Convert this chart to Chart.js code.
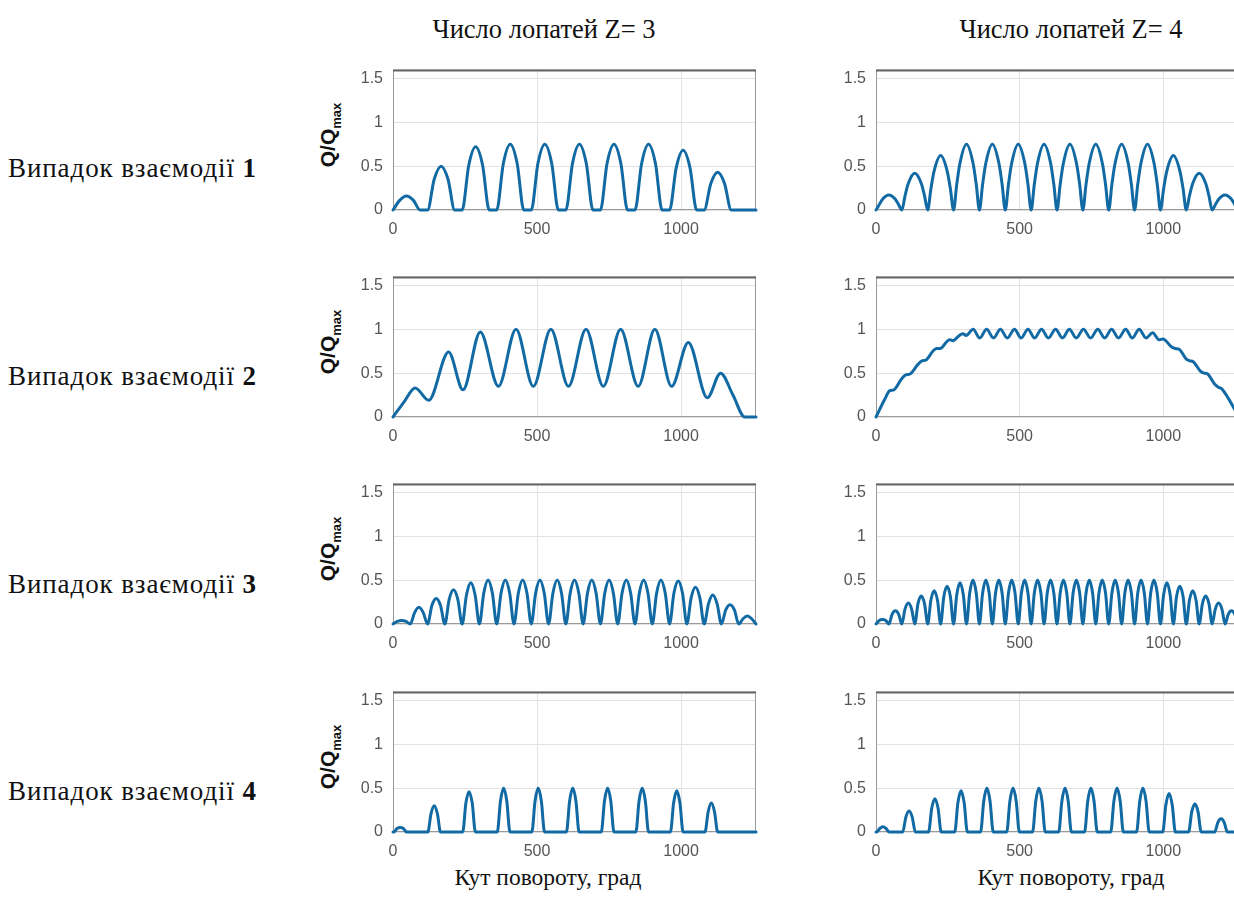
<!DOCTYPE html>
<html>
<head>
<meta charset="utf-8">
<script src="https://cdn.jsdelivr.net/npm/chart.js@4.4.1/dist/chart.umd.min.js"></script>
<style>
html, body { margin: 0; padding: 0; background: #fff; width: 1234px; height: 898px; overflow: hidden; }
#wrap { position: relative; width: 1234px; height: 898px; overflow: hidden; }
canvas { position: absolute; }
.txt { position: absolute; font-family: 'Liberation Serif', 'Times New Roman', serif; color: #111; white-space: nowrap; line-height: 1; }
.col { font-size: 26.5px; transform: translate(-50%, -50%); }
.bot { font-size: 23.5px; transform: translate(-50%, -50%); }
.row { font-size: 27px; letter-spacing: 0.9px; left: 8px; transform: translateY(-50%); }
.ylab { position: absolute; font-family: 'Liberation Sans', Arial, sans-serif; font-weight: bold; font-size: 21px; color: #111;
        transform: translate(-50%, -50%) rotate(-90deg); white-space: nowrap; line-height: 1; }
.ylab sub { font-size: 13px; }
</style>
</head>
<body>
<div id="wrap">
  <div class="txt col" style="left:544px; top:29px;">Число лопатей Z= 3</div>
  <div class="txt col" style="left:1071px; top:29px;">Число лопатей Z= 4</div>

  <div class="txt row" style="top:168px;">Випадок взаємодії <b>1</b></div>
  <div class="txt row" style="top:376px;">Випадок взаємодії <b>2</b></div>
  <div class="txt row" style="top:584px;">Випадок взаємодії <b>3</b></div>
  <div class="txt row" style="top:791px;">Випадок взаємодії <b>4</b></div>

  <div class="ylab" style="left:330px; top:135px;">Q/Q<sub>max</sub></div>
  <div class="ylab" style="left:330px; top:342px;">Q/Q<sub>max</sub></div>
  <div class="ylab" style="left:330px; top:549px;">Q/Q<sub>max</sub></div>
  <div class="ylab" style="left:330px; top:757px;">Q/Q<sub>max</sub></div>

  <div class="txt bot" style="left:548px; top:878px;">Кут повороту, град</div>
  <div class="txt bot" style="left:1071px; top:878px;">Кут повороту, град</div>
</div>

<script>
// axis ticks
var xTicks = [0, 500, 1000];
var yTicks = [0, 0.5, 1, 1.5];

// case 1, Z=3
var aX = [0,23,47,71,94, 120,143,167,191,214, 240,263,287,311,334, 360,383,407,431,454, 480,503,527,551,574,
          600,623,647,671,694, 720,743,767,791,814, 840,863,887,911,934, 960,983,1007,1031,1054, 1080,1103,1127,1151,1174, 1260];
var aY = [0,0.11,0.16,0.11,0, 0,0.35,0.5,0.35,0, 0,0.51,0.72,0.51,0, 0,0.53,0.75,0.53,0, 0,0.53,0.75,0.53,0,
          0,0.53,0.75,0.53,0, 0,0.53,0.75,0.53,0, 0,0.53,0.75,0.53,0, 0,0.48,0.68,0.48,0, 0,0.3,0.43,0.3,0, 0];

// case 1, Z=4
var bX = [0,11,22,45,68,79, 90,101,112,135,158,169, 180,191,202,225,248,259, 270,281,292,315,338,349,
          360,371,382,405,428,439, 450,461,472,495,518,529, 540,551,562,585,608,619, 630,641,652,675,698,709,
          720,731,742,765,788,799, 810,821,832,855,878,889, 900,911,922,945,968,979, 990,1001,1012,1035,1058,1069,
          1080,1091,1102,1125,1148,1159, 1170,1181,1192,1215,1238,1249, 1260];
var bY = [0,0.06,0.12,0.17,0.12,0.06, 0,0.16,0.3,0.42,0.3,0.16, 0,0.24,0.44,0.62,0.44,0.24, 0,0.29,0.53,0.75,0.53,0.29,
          0,0.29,0.53,0.75,0.53,0.29, 0,0.29,0.53,0.75,0.53,0.29, 0,0.29,0.53,0.75,0.53,0.29, 0,0.29,0.53,0.75,0.53,0.29,
          0,0.29,0.53,0.75,0.53,0.29, 0,0.29,0.53,0.75,0.53,0.29, 0,0.29,0.53,0.75,0.53,0.29, 0,0.24,0.44,0.62,0.44,0.24,
          0,0.16,0.3,0.42,0.3,0.16, 0,0.06,0.12,0.17,0.12,0.06, 0];

// case 2, Z=3
var cX = [0,38,77,124,193,243,303,366,427,487,548,609,670,730,790,851,909,967,1025,1091,1137,1180,1221,1260];
var cY = [0,0.17,0.33,0.19,0.74,0.31,0.97,0.35,1.0,0.35,1.0,0.35,1.0,0.35,1.0,0.35,1.0,0.35,0.85,0.22,0.5,0.25,0,0];

// case 2, Z=4
var dX = [0,30,48,62, 90,104,118, 146,160,174, 198,210,224, 244,256,268, 290,302,314, 338,
          361,385,409,433,457,482,505,529,552,576,600,625,649,673,697,722,747,772,796,820,844,869,892,916,940,
          963,985,999, 1028,1042,1056, 1080,1092,1104, 1130,1142,1154, 1180,1192,1204, 1260];
var dY = [0,0.2,0.3,0.31, 0.44,0.48,0.49, 0.6,0.64,0.65, 0.75,0.78,0.78, 0.85,0.88,0.87, 0.93,0.95,0.93, 1.0,
          0.9,1,0.9,1,0.9,1,0.9,1,0.9,1,0.9,1,0.9,1,0.9,1,0.9,1,0.9,1,0.9,1,0.9,1,0.9,
          0.96,0.88,0.89, 0.8,0.78,0.77, 0.66,0.64,0.63, 0.52,0.5,0.49, 0.37,0.34,0.32, 0.02];

// case 3, Z=3
var eX = [0,15,30,45, 60,75,90,105, 120,135,150,165, 180,195,210,225, 240,255,270,285, 300,315,330,345,
          360,375,390,405, 420,435,450,465, 480,495,510,525, 540,555,570,585, 600,615,630,645, 660,675,690,705,
          720,735,750,765, 780,795,810,825, 840,855,870,885, 900,915,930,945, 960,975,990,1005, 1020,1035,1050,1065,
          1080,1095,1110,1125, 1140,1155,1170,1185, 1200,1215,1230,1245, 1260];
var eY = [0,0.03,0.04,0.03, 0,0.13,0.19,0.13, 0,0.21,0.29,0.21, 0,0.28,0.39,0.28, 0,0.33,0.47,0.33, 0,0.35,0.5,0.35,
          0,0.35,0.5,0.35, 0,0.35,0.5,0.35, 0,0.35,0.5,0.35, 0,0.35,0.5,0.35, 0,0.35,0.5,0.35, 0,0.35,0.5,0.35,
          0,0.35,0.5,0.35, 0,0.35,0.5,0.35, 0,0.35,0.5,0.35, 0,0.35,0.5,0.35, 0,0.35,0.49,0.35, 0,0.3,0.42,0.3,
          0,0.23,0.33,0.23, 0,0.16,0.22,0.16, 0,0.06,0.09,0.06, 0];

// case 3, Z=4
var fX = [0,11,22.5,34, 45,56,67.5,79, 90,101,112.5,124, 135,146,157.5,169, 180,191,202.5,214, 225,236,247.5,259,
          270,281,292.5,304, 315,326,337.5,349, 360,371,382.5,394, 405,416,427.5,439, 450,461,472.5,484, 495,506,517.5,529,
          540,551,562.5,574, 585,596,607.5,619, 630,641,652.5,664, 675,686,697.5,709, 720,731,742.5,754, 765,776,787.5,799,
          810,821,832.5,844, 855,866,877.5,889, 900,911,922.5,934, 945,956,967.5,979, 990,1001,1012.5,1024, 1035,1046,1057.5,1069,
          1080,1091,1102.5,1114, 1125,1136,1147.5,1159, 1170,1181,1192.5,1204, 1215,1226,1237.5,1249, 1260];
var fY = [0,0.04,0.05,0.04, 0,0.11,0.15,0.11, 0,0.17,0.24,0.17, 0,0.23,0.32,0.23, 0,0.27,0.38,0.27, 0,0.31,0.43,0.31,
          0,0.33,0.47,0.33, 0,0.35,0.5,0.35, 0,0.35,0.5,0.35, 0,0.35,0.5,0.35, 0,0.35,0.5,0.35, 0,0.35,0.5,0.35,
          0,0.35,0.5,0.35, 0,0.35,0.5,0.35, 0,0.35,0.5,0.35, 0,0.35,0.5,0.35, 0,0.35,0.5,0.35, 0,0.35,0.5,0.35,
          0,0.35,0.5,0.35, 0,0.35,0.5,0.35, 0,0.35,0.5,0.35, 0,0.35,0.5,0.35, 0,0.33,0.47,0.33, 0,0.31,0.43,0.31,
          0,0.27,0.38,0.27, 0,0.23,0.32,0.23, 0,0.17,0.24,0.17, 0,0.11,0.15,0.11, 0,0.04,0.05,0.04, 0];

// case 4, Z=3
var gX = [0, 3,14,25,36,47, 121,132,143,154,165, 242,253,264,275,286, 362,373,384,395,406, 482,493,504,515,526,
          602,613,624,635,646, 723,734,745,756,767, 843,854,865,876,887, 963,974,985,996,1007, 1083,1094,1105,1116,1127, 1260];
var gY = [0, 0,0.04,0.05,0.04,0, 0,0.21,0.3,0.21,0, 0,0.33,0.46,0.33,0, 0,0.35,0.5,0.35,0, 0,0.35,0.5,0.35,0,
          0,0.35,0.5,0.35,0, 0,0.35,0.5,0.35,0, 0,0.35,0.5,0.35,0, 0,0.33,0.47,0.33,0, 0,0.23,0.33,0.23,0, 0];

// case 4, Z=4
var hX = [0, 2,13,24,35,46, 93,104,115,126,137, 183,194,205,216,227, 274,285,296,307,318, 364,375,386,397,408,
          455,466,477,488,499, 545,556,567,578,589, 636,647,658,669,680, 726,737,748,759,770, 817,828,839,850,861,
          907,918,929,940,951, 998,1009,1020,1031,1042, 1088,1099,1110,1121,1132, 1179,1190,1201,1212,1223, 1260];
var hY = [0, 0,0.04,0.06,0.04,0, 0,0.17,0.24,0.17,0, 0,0.27,0.38,0.27,0, 0,0.33,0.47,0.33,0, 0,0.35,0.5,0.35,0,
          0,0.35,0.5,0.35,0, 0,0.35,0.5,0.35,0, 0,0.35,0.5,0.35,0, 0,0.35,0.5,0.35,0, 0,0.35,0.5,0.35,0,
          0,0.35,0.5,0.35,0, 0,0.31,0.44,0.31,0, 0,0.23,0.32,0.23,0, 0,0.11,0.15,0.11,0, 0];

var rowTops = [60, 267, 474, 682];
var colLefts = [393, 876];
var colWidths = [363, 362];
var plotH = 150;
var lineColor = '#116aa3';

// matlab style box around the axes
var boxPlugin = {
    id: 'box',
    beforeDatasetsDraw: function(chart) {
        var a = chart.chartArea;
        var ctx = chart.ctx;
        ctx.save();
        ctx.strokeStyle = '#9a9a9a';
        ctx.lineWidth = 1;
        ctx.strokeRect(a.left + 0.5, a.top + 0.5, a.right - a.left - 1, a.bottom - a.top - 1);
        ctx.strokeStyle = '#666';
        ctx.lineWidth = 2;
        ctx.beginPath();
        ctx.moveTo(a.left, a.top + 1);
        ctx.lineTo(a.right, a.top + 1);
        ctx.stroke();
        ctx.restore();
    }
};

function makePlot(xs, ys, row, col) {
    var wrap = document.getElementById('wrap');
    var cv = document.createElement('canvas');
    var w = 60 + colWidths[col] + 10;
    var h = 10 + plotH + 35;
    cv.width = w;
    cv.height = h;
    cv.style.left = (colLefts[col] - 60) + 'px';
    cv.style.top = (rowTops[row] - 10) + 'px';
    cv.style.width = w + 'px';
    cv.style.height = h + 'px';
    wrap.appendChild(cv);

    var pts = [];
    for (var i = 0; i < xs.length; i++) {
        pts.push({x: xs[i], y: ys[i]});
    }

    var tickFont = {family: "'Liberation Sans', Arial, sans-serif", size: 16};

    new Chart(cv.getContext('2d'), {
        type: 'line',
        data: {
            datasets: [{
                data: pts,
                borderColor: lineColor,
                borderWidth: 3,
                pointRadius: 0,
                cubicInterpolationMode: 'monotone',
                borderJoinStyle: 'round',
                borderCapStyle: 'round',
                clip: false
            }]
        },
        options: {
            responsive: false,
            animation: false,
            layout: {padding: {left: 0, right: 10, top: 10, bottom: 0}},
            plugins: {legend: {display: false}, tooltip: {enabled: false}},
            scales: {
                x: {
                    type: 'linear', min: 0, max: 1260,
                    afterBuildTicks: function(s) { s.ticks = xTicks.map(function(v) { return {value: v}; }); },
                    afterFit: function(s) { s.height = 35; },
                    grid: {color: '#e2e2e2', drawTicks: false},
                    border: {display: false},
                    ticks: {padding: 10, color: '#555', font: tickFont, maxRotation: 0, autoSkip: false,
                             callback: function(v) { return String(v); }}
                },
                y: {
                    type: 'linear', min: 0, max: 1.6,
                    afterBuildTicks: function(s) { s.ticks = yTicks.map(function(v) { return {value: v}; }); },
                    afterFit: function(s) { s.width = 60; },
                    grid: {color: '#e2e2e2', drawTicks: false},
                    border: {display: false},
                    ticks: {padding: 10, color: '#555', font: tickFont,
                            callback: function(v) { return String(v); }}
                }
            }
        },
        plugins: [boxPlugin]
    });
}

makePlot(aX, aY, 0, 0);
makePlot(bX, bY, 0, 1);
makePlot(cX, cY, 1, 0);
makePlot(dX, dY, 1, 1);
makePlot(eX, eY, 2, 0);
makePlot(fX, fY, 2, 1);
makePlot(gX, gY, 3, 0);
makePlot(hX, hY, 3, 1);
</script>
</body>
</html>
